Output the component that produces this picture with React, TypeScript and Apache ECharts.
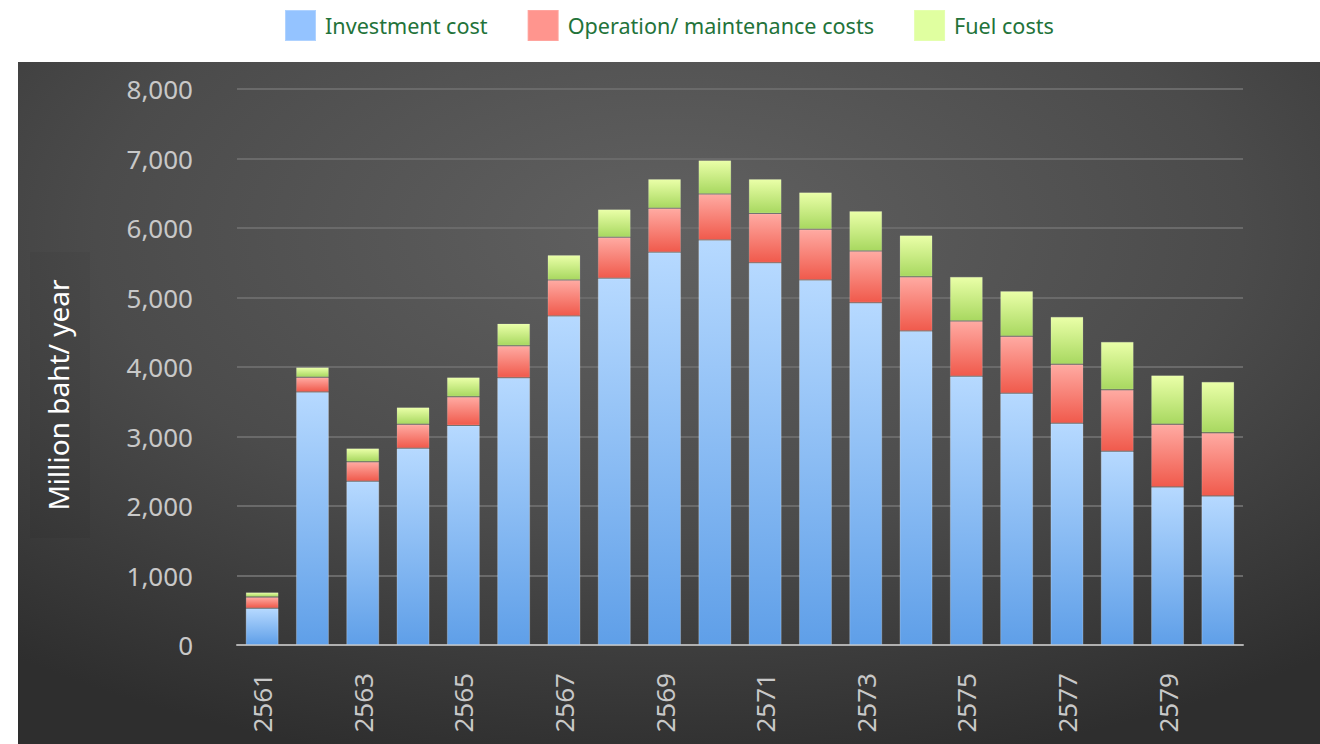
import React, { useEffect, useRef } from "react";
import * as echarts from "echarts";

const years = ["2561","2562","2563","2564","2565","2566","2567","2568","2569","2570","2571","2572","2573","2574","2575","2576","2577","2578","2579","2580"];
const investment = [530, 3640, 2355, 2830, 3160, 3846, 4734, 5276, 5650, 5827, 5500, 5252, 4926, 4518, 3866, 3621, 3189, 2787, 2273, 2144];
const operation = [160, 212, 283, 345, 412, 460, 518, 590, 633, 662, 710, 729, 743, 782, 796, 820, 849, 887, 902, 911];
const fuel = [70, 145, 192, 245, 280, 320, 360, 403, 422, 485, 494, 532, 576, 595, 638, 653, 686, 691, 705, 734];
const yTicks = [0, 1000, 2000, 3000, 4000, 5000, 6000, 7000, 8000];
const yAxisTitle = "Million baht/ year";

const grad = (top: string, bottom: string) =>
  new echarts.graphic.LinearGradient(0, 0, 0, 1, [
    { offset: 0, color: top },
    { offset: 1, color: bottom },
  ]);

export default function App() {
  const ref = useRef<HTMLDivElement>(null);
  useEffect(() => {
    if (!ref.current) return;
    const chart = echarts.init(ref.current, undefined, { renderer: "svg" });
    const font = "'Noto Sans', 'Open Sans', sans-serif";
    chart.setOption({
      animation: false,
      backgroundColor: "#ffffff",
      graphic: [
        {
          type: "rect",
          z: -10,
          silent: true,
          shape: { x: 18, y: 62, width: 1302, height: 682 },
          style: {
            fill: new echarts.graphic.RadialGradient(0.5, 0.25, 0.8, [
              { offset: 0, color: "#616161" },
              { offset: 0.55, color: "#4b4b4b" },
              { offset: 1, color: "#2e2e2e" },
            ]),
          },
        },
        {
          type: "rect",
          z: -9,
          silent: true,
          shape: { x: 30, y: 252, width: 60, height: 286 },
          style: { fill: "rgba(0,0,0,0.035)" },
        },
        {
          type: "text",
          z: 10,
          silent: true,
          x: 58,
          y: 395,
          rotation: Math.PI / 2,
          style: {
            text: yAxisTitle,
            fill: "#ffffff",
            fontSize: 28,
            fontFamily: font,
            align: "center",
            verticalAlign: "middle",
          },
        },
      ],
      legend: {
        top: 4,
        left: 279,
        itemWidth: 31,
        itemHeight: 31,
        itemGap: 39,
        icon: "rect",
        textStyle: { color: "#23733a", fontSize: 21.6, fontFamily: font, padding: [0, 0, 0, 4] },
        data: [
          { name: "Investment cost", itemStyle: { color: "#94c3ff" } },
          { name: "Operation/ maintenance costs", itemStyle: { color: "#ff958e" } },
          { name: "Fuel costs", itemStyle: { color: "#e0ffa0" } },
        ],
      },
      grid: { left: 237, top: 89, width: 1006, height: 556 },
      xAxis: {
        type: "category",
        data: years,
        axisTick: { show: false },
        axisLine: { lineStyle: { color: "#b0b0b0", width: 2 } },
        axisLabel: {
          interval: 1,
          rotate: 90,
          color: "#c8c8c8",
          fontSize: 26,
          fontFamily: font,
          margin: 28,
        },
      },
      yAxis: {
        type: "value",
        min: 0,
        max: 8000,
        interval: 1000,
        axisLine: { show: false },
        axisTick: { show: false },
        splitLine: { lineStyle: { color: "#6a6a6a", width: 2 } },
        axisLabel: {
          color: "#c8c8c8",
          fontSize: 26,
          fontFamily: font,
          margin: 44,
          formatter: (v: number) => (yTicks.includes(v) ? v.toLocaleString("en-US") : ""),
        },
      },
      series: [
        {
          name: "Investment cost",
          type: "bar",
          stack: "total",
          barWidth: 33,
          data: investment,
          itemStyle: { color: grad("#b6d9ff", "#5f9fe8"), borderColor: "rgba(255,255,255,0.25)", borderWidth: 1 },
        },
        {
          name: "Operation/ maintenance costs",
          type: "bar",
          stack: "total",
          barWidth: 33,
          data: operation,
          itemStyle: { color: grad("#ffaaa2", "#f05a4c"), borderColor: "rgba(255,255,255,0.15)", borderWidth: 1 },
        },
        {
          name: "Fuel costs",
          type: "bar",
          stack: "total",
          barWidth: 33,
          data: fuel,
          itemStyle: { color: grad("#eaffa8", "#a8d860"), borderColor: "rgba(255,255,255,0.15)", borderWidth: 1 },
        },
      ],
    });
    return () => chart.dispose();
  }, []);
  return (
    <div
      ref={ref}
      style={{ position: "fixed", left: 0, top: 0, width: 1320, height: 744 }}
    />
  );
}
